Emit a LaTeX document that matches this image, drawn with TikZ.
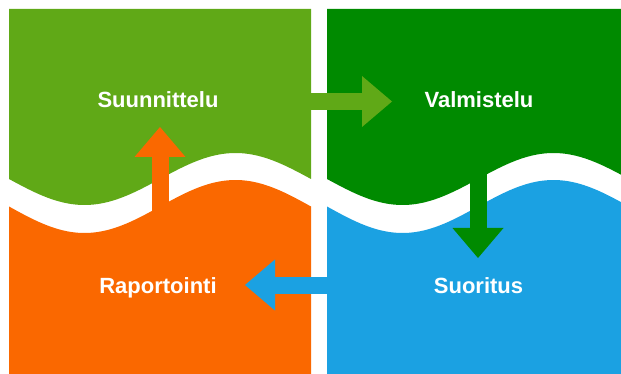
\documentclass[tikz,border=0pt]{standalone}
\usepackage{fontspec}
\setmainfont{Liberation Sans}
\usetikzlibrary{arrows.meta}
\definecolor{lgreen}{HTML}{60A917}
\definecolor{dgreen}{HTML}{008A00}
\definecolor{morange}{HTML}{FA6800}
\definecolor{mblue}{HTML}{1BA1E2}
\tikzset{
  label/.style={text=white, font=\bfseries\fontsize{22}{24}\selectfont, anchor=base, inner sep=0pt},
  blockarrow/.style={line width=17pt, line cap=butt, -{Triangle[width=51pt,length=30pt,line width=0pt]}},
}
\begin{document}
\begin{tikzpicture}[x=1pt,y=1pt]
\useasboundingbox (0,0) rectangle (621,-374);
% top-left region
\fill[lgreen] (9,-9) -- (311,-9) -- plot[domain=311:9,samples=80] (\x,{-179-26*sin((\x-9)/302*360)}) -- cycle;
% top-right region
\fill[dgreen] (327,-9) -- (621,-9) -- plot[domain=621:327,samples=80] (\x,{-179-26*sin((\x-327)/302*360)}) -- cycle;
% bottom-left region
\fill[morange] (9,-374) -- plot[domain=9:311,samples=80] (\x,{-206.5-26.5*sin((\x-9)/302*360)}) -- (311,-374) -- cycle;
% bottom-right region
\fill[mblue] (327,-374) -- plot[domain=327:621,samples=80] (\x,{-206.5-26.5*sin((\x-327)/302*360)}) -- (621,-374) -- cycle;
% labels
\node[label] (suun) at (158,-108) {Suunnittelu};
\node[label] (valm) at (479,-108) {Valmistelu};
\node[label] (rap) at (158,-293) {Raportointi};
\node[label] (suor) at (478.5,-293) {Suoritus};
% arrow endpoints
\coordinate (a1s) at (290,-101.5);
\coordinate (a1e) at (392,-101.5);
\coordinate (a2s) at (478,-150);
\coordinate (a2e) at (478,-258);
\coordinate (a3s) at (370,-285);
\coordinate (a3e) at (245,-285);
\coordinate (a4s) at (160,-240);
\coordinate (a4e) at (160,-127);
\draw[blockarrow, lgreen] (a1s) -- (a1e);
\draw[blockarrow, dgreen] (a2s) -- (a2e);
\draw[blockarrow, mblue] (a3s) -- (a3e);
\draw[blockarrow, morange] (a4s) -- (a4e);
\end{tikzpicture}
\end{document}
